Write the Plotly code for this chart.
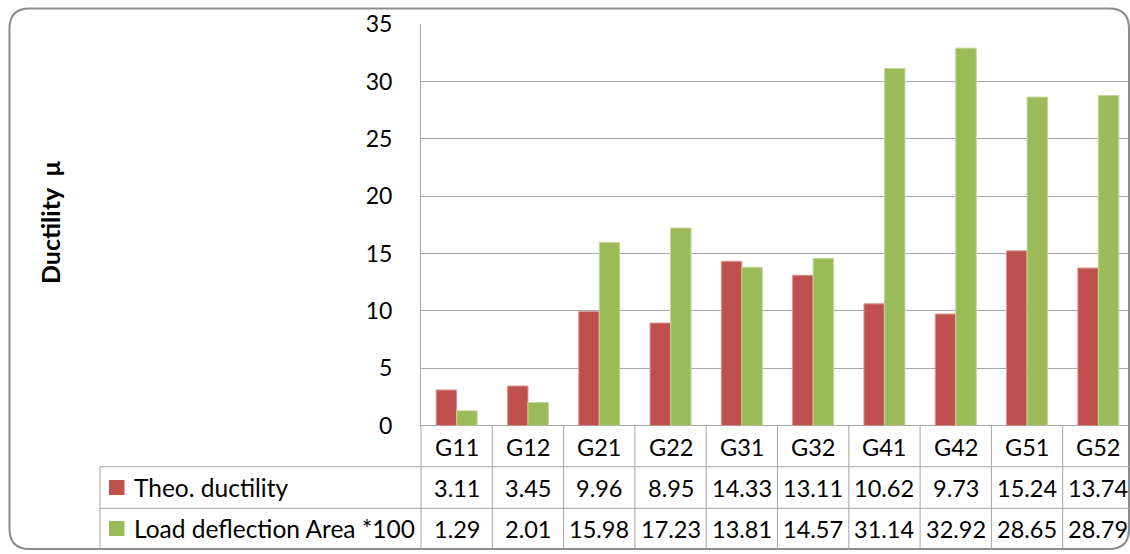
import plotly.graph_objects as go

# ---- data ----
categories = ["G11", "G12", "G21", "G22", "G31", "G32", "G41", "G42", "G51", "G52"]
theo_ductility = [3.11, 3.45, 9.96, 8.95, 14.33, 13.11, 10.62, 9.73, 15.24, 13.74]
load_deflection_area = [1.29, 2.01, 15.98, 17.23, 13.81, 14.57, 31.14, 32.92, 28.65, 28.79]
series_names = ["Theo. ductility", "Load deflection Area *100"]
y_tick_values = [0, 5, 10, 15, 20, 25, 30, 35]
y_title = "Ductility  μ"

# ---- styling ----
W, H = 1130, 554
RED, GREEN = "#C0504D", "#9BBB59"
GRID = "#a6a6a6"
BORDER = "#8c8c8c"
FONT = "Lato"
TXT = "#000000"


def px(x):
    return x / W


def py(y):
    return 1 - y / H


plot_left, plot_top, plot_bottom = 421, 24.3, 425.6
cat_width = 71.3
x_right = -0.5 + (W - plot_left) / cat_width

row_lines = [466.7, 508.3, 549.0]      # horizontal table rules
row_centers = [446.5, 487.5, 528.5]    # header, series 1, series 2
table_left = 100

fig = go.Figure()
fig.add_bar(x=categories, y=theo_ductility, name=series_names[0],
            marker=dict(color=RED, line=dict(color="#d99694", width=1)))
fig.add_bar(x=categories, y=load_deflection_area, name=series_names[1],
            marker=dict(color=GREEN, line=dict(color="#c3d69b", width=1)))

shapes = []
# rounded outer frame
l, t, r, b, rad = 9.5, 8.5, 1129, 549, 20
path = (f"M {px(l + rad)},{py(t)} L {px(r - rad)},{py(t)} "
        f"Q {px(r)},{py(t)} {px(r)},{py(t + rad)} "
        f"L {px(r)},{py(b - rad)} Q {px(r)},{py(b)} {px(r - rad)},{py(b)} "
        f"L {px(l + rad)},{py(b)} Q {px(l)},{py(b)} {px(l)},{py(b - rad)} "
        f"L {px(l)},{py(t + rad)} Q {px(l)},{py(t)} {px(l + rad)},{py(t)} Z")
shapes.append(dict(type="path", path=path, xref="paper", yref="paper",
                   line=dict(color=BORDER, width=2), layer="above"))

# data table rules
for yy in row_lines[:2]:
    shapes.append(dict(type="line", xref="paper", yref="paper",
                       x0=px(table_left), x1=1, y0=py(yy), y1=py(yy),
                       line=dict(color=GRID, width=1)))
shapes.append(dict(type="line", xref="paper", yref="paper",
                   x0=px(table_left), x1=px(table_left), y0=py(row_lines[0]), y1=py(row_lines[2]),
                   line=dict(color=GRID, width=1)))
shapes.append(dict(type="line", xref="paper", yref="paper",
                   x0=px(plot_left), x1=px(plot_left), y0=py(plot_bottom), y1=py(row_lines[2]),
                   line=dict(color=GRID, width=1)))
for k in range(len(categories)):
    shapes.append(dict(type="line", xref="x", yref="paper",
                       x0=k + 0.5, x1=k + 0.5, y0=py(plot_bottom), y1=py(row_lines[2]),
                       line=dict(color=GRID, width=1)))

# legend keys in the table
for (yc, col) in zip(row_centers[1:], [RED, GREEN]):
    shapes.append(dict(type="rect", xref="paper", yref="paper",
                       x0=px(109), x1=px(124.5), y0=py(yc - 7.5), y1=py(yc + 7.5),
                       fillcolor=col, line=dict(width=0)))

annotations = []
font_lbl = dict(family=FONT, size=24.5, color=TXT)
font_val = dict(family=FONT, size=23.5, color=TXT)
for name, yc in zip(series_names, row_centers[1:]):
    annotations.append(dict(text=name, xref="paper", yref="paper", x=px(132), y=py(yc),
                            xanchor="left", yanchor="middle", showarrow=False, font=font_lbl))
for i, cat in enumerate(categories):
    annotations.append(dict(text=cat, xref="x", yref="paper", x=i, y=py(row_centers[0]),
                            xanchor="center", yanchor="middle", showarrow=False, font=font_val))
    annotations.append(dict(text=f"{theo_ductility[i]:.2f}", xref="x", yref="paper", x=i,
                            y=py(row_centers[1]), xanchor="center", yanchor="middle",
                            showarrow=False, font=font_val))
    annotations.append(dict(text=f"{load_deflection_area[i]:.2f}", xref="x", yref="paper", x=i,
                            y=py(row_centers[2]), xanchor="center", yanchor="middle",
                            showarrow=False, font=font_val))
annotations.append(dict(text=f"<b>{y_title}</b>", xref="paper", yref="paper", x=px(50), y=py(222),
                        textangle=-90, xanchor="center", yanchor="middle", showarrow=False,
                        font=dict(family=FONT, size=25, color=TXT)))

fig.update_layout(
    width=W, height=H, autosize=False,
    margin=dict(l=0, r=0, t=0, b=0, pad=0, autoexpand=False),
    paper_bgcolor="white", plot_bgcolor="white",
    barmode="group", bargap=0.425, bargroupgap=0,
    showlegend=False,
    shapes=shapes, annotations=annotations,
    xaxis=dict(domain=[px(plot_left), 1], range=[-0.5, x_right], showticklabels=False,
               showgrid=False, zeroline=False, showline=False, fixedrange=True,
               automargin=False),
    yaxis=dict(domain=[py(plot_bottom), py(plot_top)], range=[0, 35], tickvals=y_tick_values,
               showgrid=True, gridcolor=GRID, gridwidth=1, zeroline=True, zerolinecolor=GRID,
               zerolinewidth=1, showline=True, linecolor=GRID, linewidth=1,
               ticks="", ticklabelstandoff=23, automargin=False,
               tickfont=dict(family=FONT, size=23, color=TXT), fixedrange=True),
)

fig.write_html("out.html")
